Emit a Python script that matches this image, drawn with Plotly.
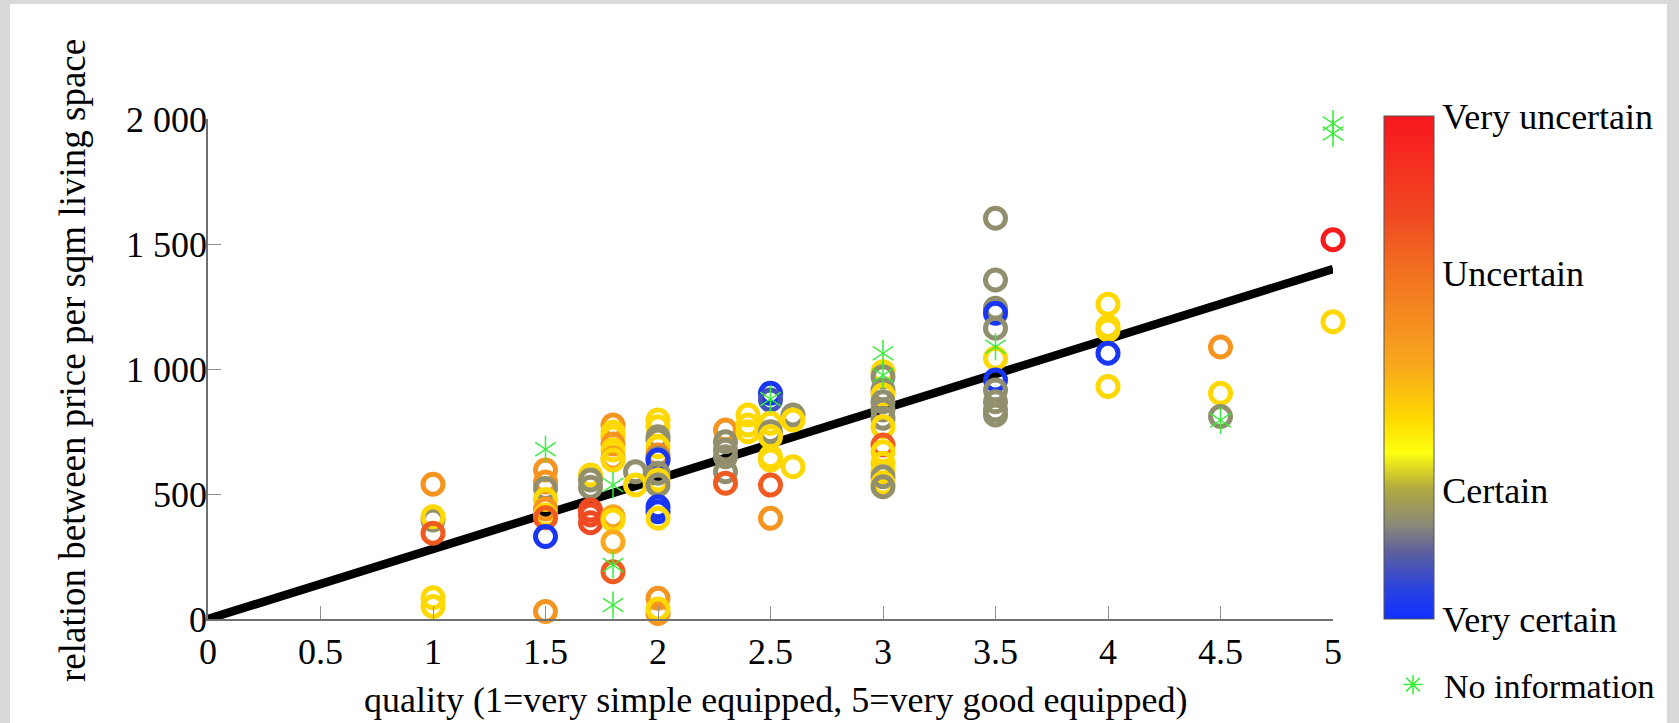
import plotly.graph_objects as go

# ---------------- data ----------------
# quality (x), price relation (y), certainty (0 = very certain ... 1 = very uncertain)
ring_quality = (
    [1, 1, 1, 1, 1, 1]
    + [1.5] * 9
    + [1.7] * 6
    + [1.8] * 11
    + [1.9] * 2
    + [2.0] * 17
    + [2.3] * 6
    + [2.4] * 3
    + [2.5] * 9
    + [2.6] * 3
    + [3.0] * 15
    + [3.5] * 11
    + [4.0] * 5
    + [4.5] * 3
    + [5.0] * 2
)
ring_price = (
    [539, 396, 409, 343, 85, 50]
    + [596, 548, 522, 478, 440, 416, 405, 330, 30]
    + [576, 556, 527, 436, 416, 385]
    + [776, 748, 728, 700, 676, 643, 636, 409, 396, 309, 189]
    + [589, 536]
    + [796, 769, 729, 716, 689, 656, 643, 636, 583, 556, 536, 449, 429, 403, 83, 22, 40]
    + [756, 709, 676, 649, 589, 543]
    + [816, 776, 749]
    + [903, 876, 783, 749, 729, 649, 636, 536, 403]
    + [816, 796, 609]
    + [989, 969, 916, 896, 869, 836, 803, 769, 696, 669, 623, 589, 569, 543, 529]
    + [1603, 1356, 1243, 1223, 1163, 1043, 956, 916, 869, 836, 816]
    + [1259, 1170, 1156, 1063, 930]
    + [1088, 903, 810]
    + [1517, 1189]
)
ring_certainty = (
    [0.57, 0.2, 0.4, 0.75, 0.4, 0.4]
    + [0.57, 0.57, 0.2, 0.4, 0.57, 0.4, 0.75, 0.02, 0.57]
    + [0.4, 0.2, 0.2, 0.8, 0.8, 0.8]
    + [0.57, 0.4, 0.4, 0.57, 0.4, 0.55, 0.4, 0.52, 0.4, 0.5, 0.75]
    + [0.2, 0.4]
    + [0.4, 0.4, 0.2, 0.2, 0.4, 0.6, 0.2, 0.02, 0.2, 0.4, 0.2, 0.02, 0.02, 0.4, 0.57, 0.57, 0.4]
    + [0.57, 0.2, 0.2, 0.2, 0.2, 0.75]
    + [0.4, 0.4, 0.4]
    + [0.02, 0.1, 0.4, 0.2, 0.4, 0.4, 0.4, 0.75, 0.57]
    + [0.2, 0.4, 0.4]
    + [0.4, 0.2, 0.2, 0.4, 0.2, 0.2, 0.2, 0.4, 0.75, 0.4, 0.4, 0.4, 0.2, 0.4, 0.2]
    + [0.2, 0.2, 0.2, 0.02, 0.2, 0.4, 0.02, 0.2, 0.2, 0.2, 0.2]
    + [0.4, 0.4, 0.4, 0.02, 0.4]
    + [0.57, 0.4, 0.2]
    + [0.98, 0.4]
)

noinfo_quality = [1.5, 1.8, 1.8, 1.8, 2.5, 3.0, 3.0, 3.5, 4.5, 5.0, 5.0]
noinfo_price = [679, 536, 216, 56, 880, 1063, 975, 1089, 795, 1982, 1942]

fit_quality = [0, 5]
fit_price = [0, 1400]

x_ticks = [0, 0.5, 1, 1.5, 2, 2.5, 3, 3.5, 4, 4.5, 5]
x_ticktext = ["0", "0.5", "1", "1.5", "2", "2.5", "3", "3.5", "4", "4.5", "5"]
y_ticks = [0, 500, 1000, 1500, 2000]
y_ticktext = ["0", "500", "1 000", "1 500", "2 000"]

cbar_vals = [0, 0.256, 0.688, 1]
cbar_text = ["Very certain", "Certain", "Uncertain", "Very uncertain"]

x_title = "quality (1=very simple equipped, 5=very good equipped)"
y_title = "relation between price per sqm living space"

# ---------------- style ----------------
FONT = "Liberation Serif, Times New Roman, serif"
FS = 36
GREEN = "#35ee35"
colorscale = [
    [0.0, "#1030ff"], [0.06, "#2a42e0"], [0.13, "#5a5ea0"], [0.19, "#8c8b76"],
    [0.26, "#b2aa40"], [0.33, "#ffff10"], [0.40, "#ffd800"], [0.50, "#f8aa1c"],
    [0.57, "#f5941f"], [0.69, "#f2701f"], [0.80, "#f04a22"], [1.0, "#f8161e"],
]

W, H = 1679, 723
L, R, T, B = 208, 346, 119, 104
PW, PH = W - L - R, H - T - B


def px_x(px):
    return (px - L) / PW


def px_y(py):
    return (H - B - py) / PH


fig = go.Figure()

fig.add_trace(go.Scatter(
    x=fit_quality, y=fit_price, mode="lines",
    line=dict(color="black", width=8.5), showlegend=False, hoverinfo="skip",
))

fig.add_trace(go.Scatter(
    x=ring_quality, y=ring_price, mode="markers", showlegend=False, cliponaxis=False,
    marker=dict(
        symbol="circle-open", size=20, color=ring_certainty, colorscale=colorscale,
        cmin=0, cmax=1, line=dict(width=5),
        showscale=True,
        colorbar=dict(
            x=px_x(1384), xanchor="left", y=px_y(367.5), yanchor="middle",
            len=503, lenmode="pixels", thickness=50, thicknessmode="pixels",
            outlinewidth=1, outlinecolor="#555555",
            tickvals=cbar_vals, ticktext=cbar_text, ticks="",
            tickfont=dict(family=FONT, size=FS, color="black"),
            bgcolor="rgba(0,0,0,0)", borderwidth=0, xpad=0, ypad=0,
        ),
    ),
))

for sym in ["y-up-open", "y-down-open"]:
    fig.add_trace(go.Scatter(
        x=noinfo_quality, y=noinfo_price, mode="markers", showlegend=False,
        cliponaxis=False,
        marker=dict(symbol=sym, size=17, color=GREEN, line=dict(color=GREEN, width=1.5)),
    ))

# legend proxy
fig.add_trace(go.Scatter(
    x=[None], y=[None], mode="markers", name="No information",
    marker=dict(symbol="asterisk-open", size=16, color=GREEN, line=dict(color=GREEN, width=1.5)),
))

axis_common = dict(
    showgrid=False, zeroline=False, showline=True, linecolor="#707070", linewidth=1.5,
    ticks="inside", ticklen=13, tickwidth=1.2, tickcolor="#909090",
    tickfont=dict(family=FONT, size=FS, color="black"),
)
fig.update_xaxes(range=[0, 5], tickvals=x_ticks, ticktext=x_ticktext, **axis_common)
fig.update_yaxes(range=[0, 2000], tickvals=y_ticks, ticktext=y_ticktext,
                 ticklabelstandoff=-8, **axis_common)

fig.add_annotation(
    text=x_title, xref="paper", yref="paper", x=px_x(775), y=px_y(700),
    xanchor="center", yanchor="middle", showarrow=False,
    font=dict(family=FONT, size=FS, color="black"),
)
fig.add_annotation(
    text=y_title, xref="paper", yref="paper", x=px_x(72), y=px_y(361),
    xanchor="center", yanchor="middle", showarrow=False, textangle=-90,
    font=dict(family=FONT, size=37, color="black"),
)

fig.add_shape(
    type="rect", xref="paper", yref="paper", layer="below",
    x0=px_x(10), x1=px_x(1667), y0=px_y(H + 5), y1=px_y(4),
    fillcolor="white", line=dict(width=0),
)

fig.update_layout(
    width=W, height=H,
    margin=dict(l=L, r=R, t=T, b=B, autoexpand=False),
    paper_bgcolor="#d9d9d9", plot_bgcolor="white",
    showlegend=True,
    legend=dict(
        x=px_x(1382), xanchor="left", y=px_y(685), yanchor="middle",
        bgcolor="rgba(0,0,0,0)", borderwidth=0, itemwidth=52,
        font=dict(family=FONT, size=34, color="black"),
    ),
    font=dict(family=FONT, size=FS, color="black"),
)

fig.write_html(
    "out.html",
    config={"displayModeBar": False},
    post_script="document.body.style.margin='0px';document.body.style.padding='0px';"
                "document.body.style.background='#d9d9d9';",
)
